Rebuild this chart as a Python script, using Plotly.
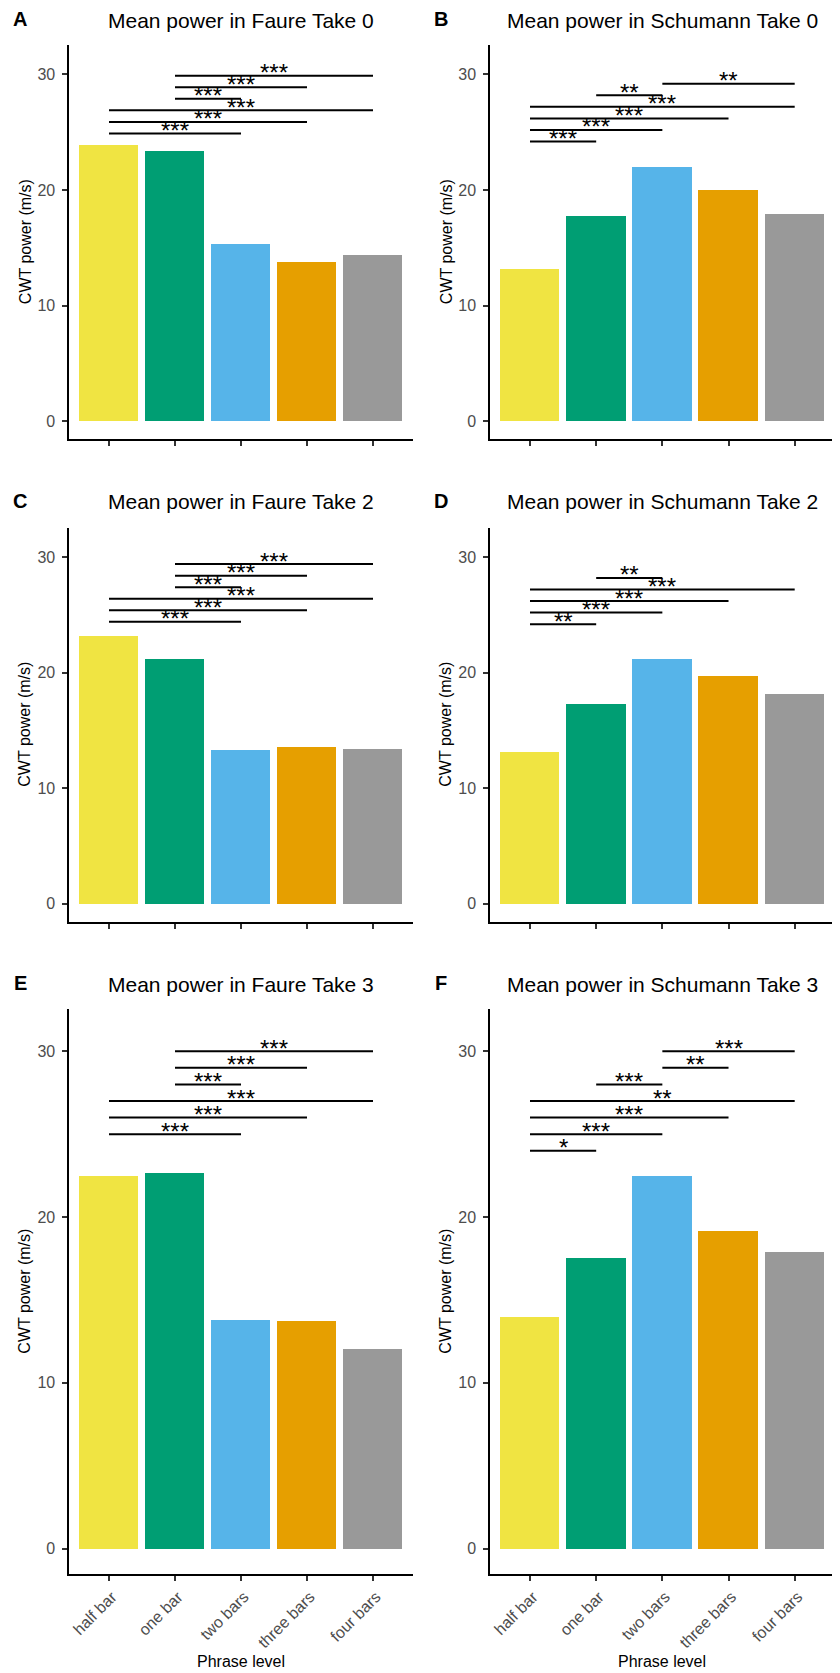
import plotly.graph_objects as go

# The page body has an 8 px margin, so the figure is drawn 8 px in from the
# corner; positions below are given in page pixels and shifted by OFF.
OFF = 8
FW, FH = 840 - OFF, 1673 - OFF

categories = ["half bar", "one bar", "two bars", "three bars", "four bars"]
bar_colors = ["#F0E442", "#009E73", "#56B4E9", "#E69F00", "#999999"]

titles = [
    "Mean power in Faure Take 0", "Mean power in Schumann Take 0",
    "Mean power in Faure Take 2", "Mean power in Schumann Take 2",
    "Mean power in Faure Take 3", "Mean power in Schumann Take 3",
]
letters = ["A", "B", "C", "D", "E", "F"]

values_A = [23.9, 23.35, 15.3, 13.8, 14.35]
values_B = [13.2, 17.8, 22.0, 20.05, 17.9]
values_C = [23.2, 21.2, 13.3, 13.6, 13.45]
values_D = [13.15, 17.35, 21.25, 19.7, 18.15]
values_E = [22.5, 22.65, 13.8, 13.75, 12.05]
values_F = [13.95, 17.5, 22.45, 19.15, 17.9]

# significance brackets: (from index, to index, height, label)
sig_A = [(0, 2, 24.9, "***"), (0, 3, 25.9, "***"), (0, 4, 26.9, "***"),
         (1, 2, 27.9, "***"), (1, 3, 28.9, "***"), (1, 4, 29.9, "***")]
sig_B = [(0, 1, 24.2, "***"), (0, 2, 25.2, "***"), (0, 3, 26.2, "***"),
         (0, 4, 27.2, "***"), (1, 2, 28.2, "**"), (2, 4, 29.2, "**")]
sig_C = [(0, 2, 24.4, "***"), (0, 3, 25.4, "***"), (0, 4, 26.4, "***"),
         (1, 2, 27.4, "***"), (1, 3, 28.4, "***"), (1, 4, 29.4, "***")]
sig_D = [(0, 1, 24.2, "**"), (0, 2, 25.2, "***"), (0, 3, 26.2, "***"),
         (0, 4, 27.2, "***"), (1, 2, 28.2, "**")]
sig_E = [(0, 2, 25.0, "***"), (0, 3, 26.0, "***"), (0, 4, 27.0, "***"),
         (1, 2, 28.0, "***"), (1, 3, 29.0, "***"), (1, 4, 30.0, "***")]
sig_F = [(0, 1, 24.0, "*"), (0, 2, 25.0, "***"), (0, 3, 26.0, "***"),
         (0, 4, 27.0, "**"), (1, 2, 28.0, "***"), (2, 3, 29.0, "**"),
         (2, 4, 30.0, "***")]

y_ticks = [0, 10, 20, 30]
y_title = "CWT power (m/s)"
x_title = "Phrase level"

values = [values_A, values_B, values_C, values_D, values_E, values_F]
sigs = [sig_A, sig_B, sig_C, sig_D, sig_E, sig_F]

# layout geometry in page pixels
col_x = [(69.4, 412.6), (490.3, 834.4)]
row_y = [(45, 439.3), (527.7, 921.7), (1009, 1574.3)]
title_y = [20.5, 502, 984]
letter_x = [20, 441]
ytitle_x = [25, 446]

FONT = "Liberation Sans, Arial, sans-serif"


def px_x(p):
    return (p - OFF) / FW


def px_y(p):
    return 1 - (p - OFF) / FH


fig = go.Figure()
annotations = []
layout_axes = {}

for k in range(6):
    r, c = k // 2, k % 2
    n = k + 1
    xa = "x" if n == 1 else f"x{n}"
    ya = "y" if n == 1 else f"y{n}"
    xkey = "xaxis" if n == 1 else f"xaxis{n}"
    ykey = "yaxis" if n == 1 else f"yaxis{n}"

    fig.add_trace(go.Bar(
        x=categories, y=values[k], width=0.9,
        marker=dict(color=bar_colors, line=dict(width=0)),
        xaxis=xa, yaxis=ya, showlegend=False, hoverinfo="skip",
    ))

    xs, ys = [], []
    for (i, j, h, lab) in sigs[k]:
        xs += [categories[i], categories[j], None]
        ys += [h, h, None]
        annotations.append(dict(
            x=(i + j) / 2, y=h, xref=xa, yref=ya, text=lab, showarrow=False,
            xanchor="center", yanchor="middle", yshift=3,
            font=dict(family=FONT, size=24, color="black"),
        ))
    fig.add_trace(go.Scatter(
        x=xs, y=ys, mode="lines", line=dict(color="black", width=2),
        xaxis=xa, yaxis=ya, showlegend=False, hoverinfo="skip",
    ))

    x0, x1 = col_x[c]
    y0, y1 = row_y[r]
    bottom = (r == 2)
    layout_axes[xkey] = dict(
        domain=[px_x(x0), px_x(x1)], anchor=ya, type="category",
        range=[-0.6, 4.6], showline=True, linecolor="black", linewidth=2,
        ticks="outside", ticklen=5, tickwidth=1.6, tickcolor="#333333",
        showticklabels=bottom, tickangle=-45, ticklabelshift=3,
        tickfont=dict(family=FONT, size=16, color="#4D4D4D"),
        showgrid=False, zeroline=False, fixedrange=True,
    )
    layout_axes[ykey] = dict(
        domain=[px_y(y1), px_y(y0)], anchor=xa,
        range=[-1.55, 32.55], tickvals=y_ticks,
        showline=True, linecolor="black", linewidth=2,
        ticks="outside", ticklen=5, tickwidth=1.6, tickcolor="#333333",
        ticklabelstandoff=4,
        tickfont=dict(family=FONT, size=16, color="#4D4D4D"),
        showgrid=False, zeroline=False, fixedrange=True,
    )

    cx = (x0 + x1) / 2
    cy = (y0 + y1) / 2
    annotations.append(dict(
        x=px_x(cx), y=px_y(title_y[r]), xref="paper", yref="paper",
        text=titles[k], showarrow=False, xanchor="center", yanchor="middle",
        font=dict(family=FONT, size=21, color="black"),
    ))
    annotations.append(dict(
        x=px_x(letter_x[c]), y=px_y(title_y[r] - 1), xref="paper", yref="paper",
        text=f"<b>{letters[k]}</b>", showarrow=False, xanchor="center",
        yanchor="middle", font=dict(family=FONT, size=20, color="black"),
    ))
    annotations.append(dict(
        x=px_x(ytitle_x[c]), y=px_y(cy), xref="paper", yref="paper",
        text=y_title, showarrow=False, textangle=-90, xanchor="center",
        yanchor="middle", font=dict(family=FONT, size=16, color="black"),
    ))
    if bottom:
        annotations.append(dict(
            x=px_x(cx), y=px_y(1661), xref="paper", yref="paper",
            text=x_title, showarrow=False, xanchor="center", yanchor="middle",
            font=dict(family=FONT, size=16, color="black"),
        ))

fig.update_layout(
    width=FW, height=FH, autosize=False,
    margin=dict(l=0, r=0, t=0, b=0, autoexpand=False),
    paper_bgcolor="white", plot_bgcolor="white",
    annotations=annotations, bargap=0, **layout_axes,
)

fig.write_html("out.html")
